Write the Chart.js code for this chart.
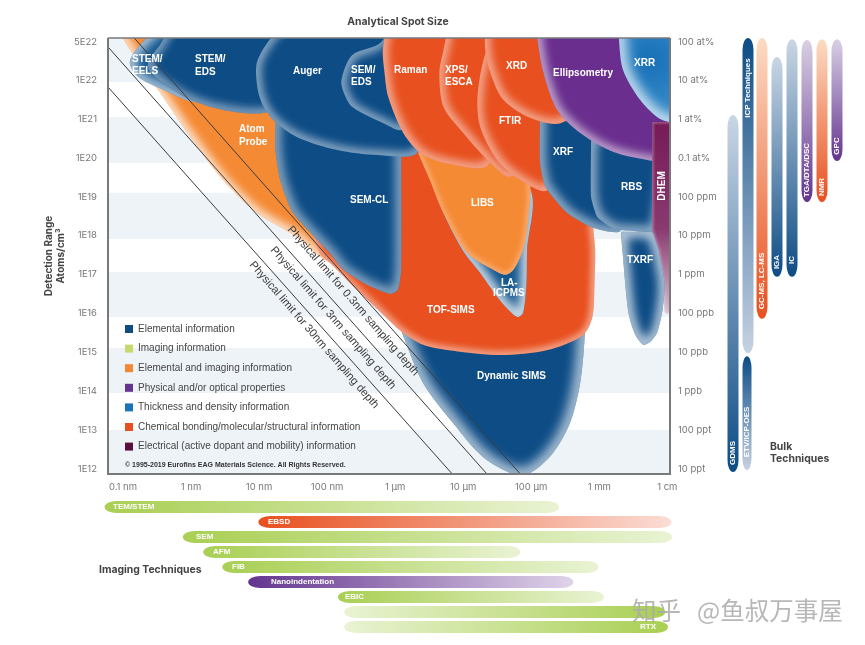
<!DOCTYPE html>
<html>
<head>
<meta charset="utf-8">
<title>Analytical Spot Size</title>
<script src="https://cdn.jsdelivr.net/npm/chart.js@4"></script>
<style>
    html, body { margin: 0; padding: 0; background: #fff; }
    canvas { display: block; }
</style>
</head>
<body>
<canvas id="spotChart" width="865" height="645"></canvas>
<script>
// x values are log10(spot size in nm), y values are log10(atoms/cm3)
const xTickValues = [-1, 0, 1, 2, 3, 4, 5, 6, 7];
const xTickLabels = ['0.1 nm', '1 nm', '10 nm', '100 nm', '1 µm', '10 µm', '100 µm', '1 mm', '1 cm'];
const yTickValues = [22.97, 22, 21, 20, 19, 18, 17, 16, 15, 14, 13, 12];
const yTickLabels = ['5E22', '1E22', '1E21', '1E20', '1E19', '1E18', '1E17', '1E16', '1E15', '1E14', '1E13', '1E12'];
const rightTickLabels = ['100 at%', '10 at%', '1 at%', '0.1 at%', '100 ppm', '10 ppm', '1 ppm', '100 ppb', '10 ppb', '1 ppb', '100 ppt', '10 ppt'];

// Light horizontal bands behind the chart
const bandFrom = [21.95, 19.87, 17.91, 15.91, 13.95, 11.87];
const bandTo = [23.08, 21.05, 19.10, 17.06, 15.11, 13.00];

// Technique outlines
const atomProbeX = [-1.12, -0.97, -0.46, -0.01, 0.47, 0.97, 1.56, 2.04, 3.07, 3.37, 1.60];
const atomProbeY = [23.54, 22.98, 21.69, 20.53, 19.43, 18.58, 17.96, 17.32, 17.32, 21.49, 23.54];
const dynamicSimsX = [3.10, 3.41, 3.85, 4.29, 4.74, 4.99, 5.32, 5.57, 5.72, 5.79, 5.79, 3.07];
const dynamicSimsY = [15.50, 14.21, 13.18, 12.31, 11.87, 11.90, 12.41, 13.18, 14.21, 15.50, 16.34, 16.34];
const tofSimsX = [1.90, 2.04, 2.44, 2.78, 3.10, 3.41, 3.76, 4.54, 5.24, 5.76, 5.90, 5.93, 5.94, 5.91, 5.87, 3.07, 1.60];
const tofSimsY = [17.50, 17.30, 16.60, 16.04, 15.52, 15.19, 15.06, 14.93, 15.06, 15.44, 15.91, 16.78, 17.63, 18.22, 19.43, 20.71, 18.91];
const semClX = [1.24, 1.24, 1.31, 1.50, 2.04, 2.24, 2.59, 2.93, 3.04, 3.09, 3.09, 3.09];
const semClY = [21.10, 20.20, 19.43, 18.58, 17.55, 17.12, 16.73, 16.50, 16.60, 17.12, 20.20, 21.10];
const laIcpmsX = [3.59, 3.71, 3.99, 4.25, 4.54, 4.79, 4.88, 4.93, 4.94, 4.99, 4.25];
const laIcpmsY = [19.17, 18.58, 17.63, 17.04, 16.34, 15.91, 16.01, 16.78, 17.63, 19.17, 20.20];
const libsX = [3.34, 3.51, 3.71, 4.06, 4.44, 4.62, 4.74, 4.88, 4.94, 4.99, 4.96, 4.84, 3.51];
const libsY = [20.12, 19.43, 18.58, 17.55, 17.12, 16.99, 17.12, 17.63, 18.14, 19.17, 19.61, 20.71, 20.71];
const txrfX = [6.32, 6.34, 6.43, 6.53, 6.65, 6.75, 6.85, 6.93, 6.96, 6.87, 6.78];
const txrfY = [18.10, 17.63, 16.01, 15.45, 15.19, 15.27, 15.50, 16.09, 16.78, 17.63, 18.10];
const stemEelsX = [-0.31, -0.75, -0.90, -0.79, -0.50, 0.13, 0.57];
const stemEelsY = [23.60, 22.90, 22.46, 22.10, 21.82, 21.49, 23.60];
const stemEdsX = [-0.24, -0.43, -0.63, -0.60, -0.43, -0.01, 0.47, 1.06, 1.46, 1.60];
const stemEdsY = [23.60, 22.98, 22.46, 22.21, 21.95, 21.49, 21.23, 21.15, 21.49, 23.60];
const augerX = [1.46, 1.16, 0.97, 0.97, 1.04, 1.21, 1.56, 2.15, 2.74, 3.32, 3.66, 3.51];
const augerY = [23.60, 23.05, 22.46, 21.87, 21.41, 20.97, 20.53, 20.20, 20.07, 20.12, 21.49, 23.60];
const semEdsX = [3.00, 2.78, 2.37, 2.21, 2.26, 2.38, 2.88, 3.07, 3.51, 3.51];
const semEdsY = [23.60, 22.95, 22.64, 21.99, 21.61, 21.29, 20.84, 20.71, 20.97, 23.60];
const ramanX = [2.90, 2.82, 2.84, 2.90, 3.12, 3.41, 3.85, 4.35, 4.69, 4.69];
const ramanY = [23.60, 22.77, 22.26, 21.56, 20.64, 20.07, 19.82, 19.79, 20.97, 23.60];
const xpsX = [3.81, 3.71, 3.65, 3.71, 4.00, 4.40, 4.69, 5.13, 5.13];
const xpsY = [23.60, 22.77, 22.18, 21.31, 20.64, 19.87, 19.51, 20.20, 23.60];
const ftirX = [4.54, 4.32, 4.21, 4.25, 4.50, 4.84, 5.24, 5.57, 5.13];
const ftirY = [23.40, 22.64, 21.56, 20.79, 19.94, 19.43, 19.17, 20.71, 23.40];
const xrdX = [4.34, 4.32, 4.40, 4.59, 4.99, 5.43, 5.87, 5.87];
const xrdY = [23.60, 22.85, 22.18, 21.49, 21.02, 20.89, 21.49, 23.60];
const xrfX = [5.13, 5.13, 5.21, 5.53, 5.91, 6.31, 6.60, 6.01];
const xrfY = [21.30, 19.87, 19.25, 18.58, 18.20, 18.12, 20.20, 21.30];
const rbsX = [5.88, 5.88, 5.97, 6.21, 6.50, 6.82, 6.97, 6.16];
const rbsY = [20.46, 18.99, 18.48, 18.17, 18.12, 18.12, 20.71, 20.71];
const ellipsometryX = [5.06, 5.09, 5.18, 5.38, 5.72, 6.21, 6.79, 7.34, 7.34];
const ellipsometryY = [23.60, 23.05, 22.18, 21.23, 20.64, 20.15, 19.92, 19.82, 23.60];
const xrrX = [6.28, 6.29, 6.35, 6.60, 6.85, 7.03, 7.34, 7.34];
const xrrY = [23.60, 23.05, 22.26, 21.49, 21.05, 20.92, 20.89, 23.60];
const dhemX = [6.78, 6.78, 6.87, 6.94, 6.97, 7.34, 7.34];
const dhemY = [20.92, 18.14, 17.63, 16.78, 16.01, 15.98, 20.92];

// Physical limit lines
const limit03X = [-0.85, 4.84];
const limit03Y = [23.11, 11.87];
const limit3X = [-1.22, 4.35];
const limit3Y = [22.85, 11.87];
const limit30X = [-1.22, 3.84];
const limit30Y = [21.82, 11.87];

// Imaging techniques, range along the x scale
const imagingNames = ['TEM/STEM', 'EBSD', 'SEM', 'AFM', 'FIB', 'Nanoindentation', 'EBIC', '', 'RTX'];
const imagingStart = [-1.27, 0.99, -0.12, 0.18, 0.46, 0.84, 2.16, 2.25, 2.25];
const imagingEnd = [5.41, 7.06, 7.07, 4.84, 5.99, 5.62, 6.07, 6.97, 7.01];

// Bulk techniques, range along the y scale
const bulkNames = ['GDMS', 'ICP Techniques', 'ETV/ICP-OES', 'GC-MS, LC-MS', 'IGA', 'IC', 'TGA/DTA/DSC', 'NMR', 'GPC'];
const bulkTop = [21.10, 23.08, 14.90, 23.08, 22.59, 23.05, 23.03, 23.05, 23.05];
const bulkBottom = [11.92, 14.98, 11.97, 15.86, 16.94, 16.94, 18.86, 18.86, 19.92];

// Legend
const legendLabels = [
    'Elemental information',
    'Imaging information',
    'Elemental and imaging information',
    'Physical and/or optical properties',
    'Thickness and density information',
    'Chemical bonding/molecular/structural information',
    'Electrical (active dopant and mobility) information'
];
const legendColors = ['#0f4c81', '#c6d96f', '#f58634', '#64358f', '#1b75bb', '#e8501f', '#5a0f3e'];

const BLUE = '#0d4c85';
const RED = '#e8501f';
const ORANGE = '#f58a35';
const PURPLE = '#6a2f8e';
const SANS = '"Liberation Sans", Arial, sans-serif';
const WIDE = 'Inter, "Noto Sans", sans-serif';

const canvas = document.getElementById('spotChart');
const ctx = canvas.getContext('2d');

const dhemFill = ctx.createLinearGradient(0, 122, 0, 316);
dhemFill.addColorStop(0, '#761a55');
dhemFill.addColorStop(0.55, '#8a3a70');
dhemFill.addColorStop(1, '#dcc0d2');

const xrrFill = ctx.createRadialGradient(650, 60, 5, 650, 60, 60);
xrrFill.addColorStop(0, '#1a72b8');
xrrFill.addColorStop(1, '#3b8fcc');

// Back to front, later entries cover earlier ones
function shape(xs, ys, color, glowWidth, glowAlpha, tension) {
    return {
        data: xs.map((x, i) => ({ x: x, y: ys[i] })),
        backgroundColor: color,
        borderWidth: 0,
        fill: 'shape',
        tension: tension === undefined ? 0.3 : tension,
        pointRadius: 0,
        glow: { width: glowWidth, alpha: glowAlpha }
    };
}

function limitLine(xs, ys) {
    return {
        data: xs.map((x, i) => ({ x: x, y: ys[i] })),
        borderColor: '#3a3a3a',
        borderWidth: 1,
        fill: false,
        tension: 0,
        pointRadius: 0
    };
}

const datasets = [
    shape(atomProbeX, atomProbeY, ORANGE, 10, 0.8),
    shape(dynamicSimsX, dynamicSimsY, BLUE, 14, 0.7),
    shape(tofSimsX, tofSimsY, RED, 8, 0.5),
    shape(semClX, semClY, BLUE, 12, 0.5, 0.2),
    shape(laIcpmsX, laIcpmsY, '#15588f', 12, 0.8),
    shape(libsX, libsY, ORANGE, 6, 0.3),
    shape(stemEelsX, stemEelsY, '#175a93', 12, 0.65),
    shape(stemEdsX, stemEdsY, BLUE, 10, 0.5),
    shape(augerX, augerY, BLUE, 10, 0.55),
    shape(semEdsX, semEdsY, BLUE, 10, 0.55),
    shape(ramanX, ramanY, RED, 10, 0.55),
    shape(xpsX, xpsY, RED, 10, 0.55),
    shape(ftirX, ftirY, RED, 10, 0.55),
    shape(xrfX, xrfY, BLUE, 12, 0.55, 0.2),
    shape(rbsX, rbsY, BLUE, 12, 0.55, 0.15),
    shape(xrdX, xrdY, RED, 10, 0.55),
    shape(ellipsometryX, ellipsometryY, PURPLE, 10, 0.6),
    shape(xrrX, xrrY, xrrFill, 14, 0.75),
    shape(dhemX, dhemY, dhemFill, 3, 0.3, 0.1),
    shape(txrfX, txrfY, BLUE, 12, 0.7, 0.25),
    limitLine(limit30X, limit30Y),
    limitLine(limit3X, limit3Y),
    limitLine(limit03X, limit03Y)
];
datasets.forEach((d, i) => { d.order = datasets.length - i; });

// Labels inside the chart
const shapeLabels = [
    ['STEM/', 132, 59], ['EELS', 132, 71], ['STEM/', 195, 59], ['EDS', 195, 72],
    ['Auger', 293, 71], ['SEM/', 351, 70], ['EDS', 351, 82], ['Raman', 394, 70],
    ['XPS/', 445, 70], ['ESCA', 445, 82], ['XRD', 506, 66], ['FTIR', 499, 121],
    ['Ellipsometry', 553, 73], ['XRR', 634, 63], ['XRF', 553, 152], ['RBS', 621, 187],
    ['Atom', 239, 129], ['Probe', 239, 142], ['SEM-CL', 350, 200], ['LIBS', 471, 203],
    ['TXRF', 627, 260], ['LA-', 501, 283], ['ICPMS', 493, 293], ['TOF-SIMS', 427, 310],
    ['Dynamic SIMS', 477, 376]
];

const limitLabels = [
    ['Physical limit for 0.3nm sampling depth', 353, 301],
    ['Physical limit for 3nm sampling depth', 333, 318],
    ['Physical limit for 30nm sampling depth', 314, 335]
];

function drawText(c, text, x, y, font, color, align, angle) {
    c.save();
    c.font = font;
    c.fillStyle = color;
    c.textAlign = align || 'left';
    c.textBaseline = 'middle';
    c.translate(x, y);
    if (angle) c.rotate(angle);
    c.fillText(text, 0, 0);
    c.restore();
}

// Bands drawn under every dataset
const bandsPlugin = {
    id: 'bands',
    beforeDatasetsDraw(chart) {
        const c = chart.ctx;
        const a = chart.chartArea;
        const y = chart.scales.y;
        c.save();
        c.fillStyle = '#eef3f8';
        bandFrom.forEach((from, i) => {
            const top = y.getPixelForValue(bandTo[i]);
            const bottom = y.getPixelForValue(from);
            c.fillRect(a.left, top, a.width, bottom - top);
        });
        c.restore();
    }
};

// Soft light rim on the inside of each shape
const glowPlugin = {
    id: 'glow',
    afterDatasetDraw(chart, args) {
        const ds = chart.data.datasets[args.index];
        if (!ds.glow) return;
        const c = chart.ctx;
        const a = chart.chartArea;
        const line = args.meta.dataset;
        c.save();
        c.beginPath();
        c.rect(a.left, a.top, a.width, a.height);
        c.clip();
        c.beginPath();
        line.path(c);
        c.closePath();
        c.clip();
        c.beginPath();
        line.path(c);
        c.closePath();
        c.filter = 'blur(' + (ds.glow.width / 2.5) + 'px)';
        c.strokeStyle = 'rgba(255, 255, 255, ' + ds.glow.alpha + ')';
        c.lineWidth = ds.glow.width;
        c.stroke();
        c.restore();
    }
};

function capsule(c, x0, y0, x1, y1, tip, horizontal) {
    c.beginPath();
    if (horizontal) {
        const cy = (y0 + y1) / 2;
        const h = (y1 - y0) / 2;
        c.ellipse(x0 + tip, cy, tip, h, 0, Math.PI / 2, Math.PI * 1.5);
        c.ellipse(x1 - tip, cy, tip, h, 0, -Math.PI / 2, Math.PI / 2);
    } else {
        const cx = (x0 + x1) / 2;
        const w = (x1 - x0) / 2;
        c.ellipse(cx, y0 + tip, w, tip, 0, Math.PI, Math.PI * 2);
        c.ellipse(cx, y1 - tip, w, tip, 0, 0, Math.PI);
    }
    c.closePath();
}

// Everything around the plot: bars, legend, titles
const extrasPlugin = {
    id: 'extras',
    afterDraw(chart) {
        const c = chart.ctx;
        const a = chart.chartArea;
        const xs = chart.scales.x;
        const ys = chart.scales.y;

        // Plot frame
        c.save();
        c.strokeStyle = '#77797c';
        c.lineWidth = 1.5;
        c.beginPath();
        c.moveTo(a.left, a.top);
        c.lineTo(a.right, a.top);
        c.stroke();
        c.lineWidth = 2;
        c.beginPath();
        c.moveTo(a.right, a.top);
        c.lineTo(a.right, a.bottom);
        c.lineTo(a.left, a.bottom);
        c.lineTo(a.left, a.top);
        c.stroke();
        c.restore();

        shapeLabels.forEach(l => {
            drawText(c, l[0], l[1], l[2], 'bold 10px ' + SANS, '#fff');
        });
        drawText(c, 'DHEM', 662, 186, 'bold 10px ' + SANS, '#fff', 'center', -Math.PI / 2);

        limitLabels.forEach(l => {
            drawText(c, l[0], l[1], l[2], '11.2px ' + SANS, '#3c3c3c', 'center', 0.855);
        });

        // Legend
        legendLabels.forEach((label, i) => {
            const rowY = 329 + i * 19.6;
            c.fillStyle = legendColors[i];
            c.fillRect(125, rowY - 4, 8, 8);
            drawText(c, label, 138, rowY, '10px ' + SANS, '#444');
        });
        drawText(c, '© 1995-2019 Eurofins EAG Materials Science. All Rights Reserved.', 125, 465,
            'bold 7px ' + SANS, '#333');

        // Imaging bars
        const imagingColors = [
            ['#a9cf53', '#e9f3d3'], ['#e8501f', '#fbdcd4'], ['#a9cf53', '#e9f3d3'],
            ['#a9cf53', '#e9f3d3'], ['#a9cf53', '#e9f3d3'], ['#64358f', '#dfd3e9'],
            ['#a9cf53', '#e9f3d3'], ['#e9f3d3', '#a9cf53'], ['#e9f3d3', '#a9cf53']
        ];
        const imagingLabelX = [113, 268, 196, 213, 232, 271, 345, 0, 640];
        imagingStart.forEach((start, i) => {
            const x0 = xs.getPixelForValue(start);
            const x1 = xs.getPixelForValue(imagingEnd[i]);
            const cy = 507 + i * 15;
            const grad = c.createLinearGradient(x0, 0, x1, 0);
            grad.addColorStop(0, imagingColors[i][0]);
            grad.addColorStop(1, imagingColors[i][1]);
            c.fillStyle = grad;
            capsule(c, x0, cy - 6, x1, cy + 6, 12, true);
            c.fill();
            if (imagingNames[i]) {
                drawText(c, imagingNames[i], imagingLabelX[i], cy, 'bold 8px ' + SANS, '#fff');
            }
        });

        // Bulk bars
        const bulkX = [733, 748, 747, 762, 777, 792, 807, 822, 837];
        const bulkWidth = [11, 11, 9, 11, 11, 11, 11, 11, 11];
        const bulkColors = [
            ['#c9d6e4', '#0d4c85'], ['#0d4c85', '#c6d2e2'], ['#0d4c85', '#c6d2e2'],
            ['#fcdcc4', '#e8501f'], ['#c9d6e4', '#0d4c85'], ['#c9d6e4', '#0d4c85'],
            ['#d8d0e4', '#64358f'], ['#fcdcc4', '#e8501f'], ['#d8d0e4', '#64358f']
        ];
        const bulkLabelY = [453, 88, 432, 281, 262, 260, 170, 187, 146];
        bulkTop.forEach((top, i) => {
            const y0 = ys.getPixelForValue(top);
            const y1 = ys.getPixelForValue(bulkBottom[i]);
            const grad = c.createLinearGradient(0, y0, 0, y1);
            grad.addColorStop(0, bulkColors[i][0]);
            grad.addColorStop(1, bulkColors[i][1]);
            c.fillStyle = grad;
            capsule(c, bulkX[i] - bulkWidth[i] / 2, y0, bulkX[i] + bulkWidth[i] / 2, y1, 12, false);
            c.fill();
            drawText(c, bulkNames[i], bulkX[i], bulkLabelY[i], 'bold 8px ' + SANS, '#fff', 'center', -Math.PI / 2);
        });

        // Titles
        const heading = 'bold 10.4px ' + WIDE;
        drawText(c, 'Analytical Spot Size', 398, 22, heading, '#444', 'center');
        drawText(c, 'Imaging Techniques', 99, 570, heading, '#444');
        drawText(c, 'Bulk', 770, 447, heading, '#444');
        drawText(c, 'Techniques', 770, 459, heading, '#444');

        // Site watermark
        const mark = '24.5px "Noto Sans CJK SC", sans-serif';
        drawText(c, '知乎', 632, 611, mark, 'rgba(170, 170, 170, 0.85)');
        drawText(c, '@鱼叔万事屋', 697, 611, mark, 'rgba(170, 170, 170, 0.85)');
    }
};

const tickFont = { family: WIDE, size: 9.5 };

new Chart(ctx, {
    type: 'line',
    data: { datasets: datasets },
    plugins: [bandsPlugin, glowPlugin, extrasPlugin],
    options: {
        responsive: false,
        animation: false,
        layout: { padding: { top: 38 } },
        elements: { line: { capBezierPoints: false } },
        plugins: {
            legend: { display: false },
            tooltip: { enabled: false }
        },
        scales: {
            x: {
                type: 'linear',
                position: 'bottom',
                min: -1.22,
                max: 7.04,
                grid: { display: false, drawTicks: false },
                border: { display: false },
                afterFit(scale) { scale.height = 171; },
                afterBuildTicks(scale) { scale.ticks = xTickValues.map(v => ({ value: v })); },
                ticks: {
                    autoSkip: false,
                    maxRotation: 0,
                    padding: 7,
                    color: '#777',
                    font: tickFont,
                    callback: (value, i) => xTickLabels[i]
                }
            },
            y: {
                type: 'linear',
                position: 'left',
                min: 11.87,
                max: 23.08,
                grid: { display: false, drawTicks: false },
                border: { display: false },
                afterFit(scale) { scale.width = 108; },
                afterBuildTicks(scale) { scale.ticks = yTickValues.map(v => ({ value: v })); },
                title: {
                    display: true,
                    text: ['Detection Range', 'Atoms/cm³'],
                    color: '#444',
                    font: { family: WIDE, size: 10, weight: 'bold' },
                    padding: { top: 43, bottom: 0 }
                },
                ticks: {
                    autoSkip: false,
                    padding: 11,
                    color: '#777',
                    font: tickFont,
                    callback: (value, i) => yTickLabels[i]
                }
            },
            y2: {
                type: 'linear',
                position: 'right',
                min: 11.87,
                max: 23.08,
                grid: { display: false, drawTicks: false },
                border: { display: false },
                afterFit(scale) { scale.width = 195; },
                afterBuildTicks(scale) { scale.ticks = yTickValues.map(v => ({ value: v })); },
                ticks: {
                    autoSkip: false,
                    padding: 8,
                    color: '#777',
                    font: tickFont,
                    callback: (value, i) => rightTickLabels[i]
                }
            }
        }
    }
});
</script>
</body>
</html>
